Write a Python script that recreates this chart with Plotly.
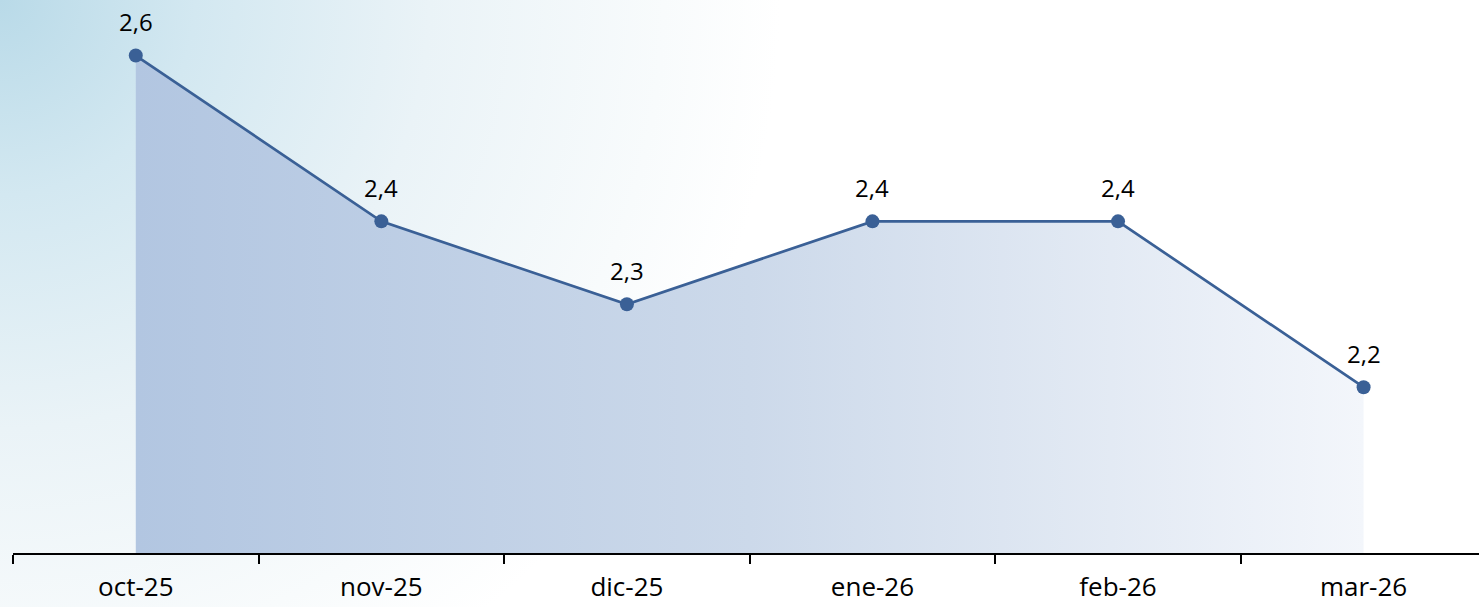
import base64
import plotly.graph_objects as go

categories = ["oct-25", "nov-25", "dic-25", "ene-26", "feb-26", "mar-26"]
values = [2.6, 2.4, 2.3, 2.4, 2.4, 2.2]
labels = [f"{v:.1f}".replace(".", ",") for v in values]

W, H = 1479, 607
ML, MR, MT, MB = 13, 0, 0, 54

svg = f'''<svg xmlns="http://www.w3.org/2000/svg" width="{W}" height="{H}" viewBox="0 0 {W} {H}">
<defs><radialGradient id="g" gradientUnits="userSpaceOnUse" cx="0" cy="0" r="780">
<stop offset="0" stop-color="#b9dae8"/>
<stop offset="0.25" stop-color="#d3e8f1"/>
<stop offset="0.55" stop-color="#eaf3f7"/>
<stop offset="0.85" stop-color="#f8fbfc"/>
<stop offset="1" stop-color="#ffffff"/>
</radialGradient></defs>
<rect width="{W}" height="{H}" fill="#ffffff"/>
<rect width="{W}" height="{H}" fill="url(#g)"/>
</svg>'''
src = "data:image/svg+xml;base64," + base64.b64encode(svg.encode()).decode()

pw = W - ML - MR
ph = H - MT - MB

fig = go.Figure()
fig.add_trace(go.Scatter(
    x=categories, y=values, mode="lines+markers",
    line=dict(color="#3a6096", width=2.7),
    marker=dict(color="#3a6096", size=14),
    fill="tozeroy",
    fillgradient=dict(type="horizontal",
                      colorscale=[[0, "#b2c6e1"], [0.5, "#ccd9ea"], [1, "#f3f6fb"]]),
    hoverinfo="skip",
))

for c, v, t in zip(categories, values, labels):
    fig.add_annotation(x=c, y=v, text=t, showarrow=False, yshift=34,
                       font=dict(family="Open Sans", size=24, color="#000000"))

fig.add_layout_image(dict(
    source=src, xref="paper", yref="paper",
    x=-ML / pw, y=1 + MT / ph, sizex=W / pw, sizey=H / ph,
    xanchor="left", yanchor="top", sizing="stretch", layer="below",
))

fig.update_layout(
    width=W, height=H,
    margin=dict(l=ML, r=MR, t=MT, b=MB),
    paper_bgcolor="#ffffff", plot_bgcolor="rgba(0,0,0,0)",
    showlegend=False,
    font=dict(family="Open Sans", color="#000000"),
    xaxis=dict(type="category", range=[-0.5, 5.47], tickson="boundaries",
               ticks="outside", ticklen=9, tickcolor="#000000", tickwidth=2,
               showline=True, linecolor="#000000", linewidth=2,
               showgrid=False, zeroline=False, ticklabelstandoff=10,
               automargin=False,
               tickfont=dict(family="Open Sans", size=26, color="#000000")),
    yaxis=dict(range=[2.0, 2.667], visible=False, showgrid=False, zeroline=False,
               automargin=False),
)

fig.write_html("out.html", config={"displayModeBar": False},
               post_script="document.body.style.margin='0px';")
